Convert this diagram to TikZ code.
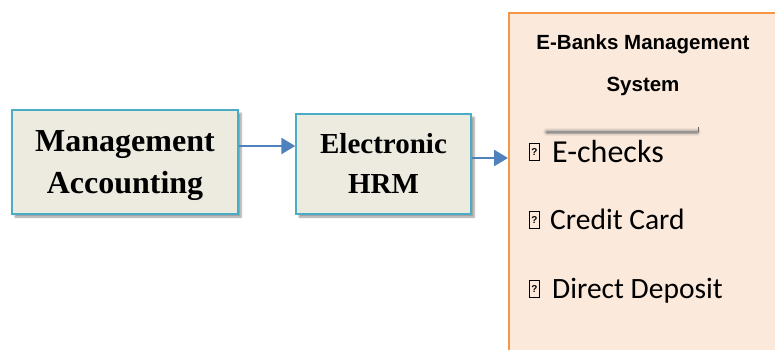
\documentclass[tikz,border=0pt]{standalone}
\usepackage{fontspec}
\setmainfont{Liberation Serif}
\newfontfamily\arialf{Liberation Sans}
\newfontfamily\calibf{Carlito}
\usetikzlibrary{shadows.blur,arrows.meta}
\definecolor{boxfill}{HTML}{EDEBE0}
\definecolor{boxline}{HTML}{4BACC6}
\definecolor{orfill}{HTML}{FBE9DB}
\definecolor{orline}{HTML}{F79646}
\definecolor{arrblue}{HTML}{4F81BD}
\tikzset{
  tanbox/.style={draw=boxline, line width=1.4pt, fill=boxfill, inner sep=0pt,
    blur shadow={shadow xshift=3pt, shadow yshift=-3pt, shadow blur steps=6, shadow opacity=40}},
  boxlabel/.style={align=center, inner sep=0pt, anchor=base},
  flowarrow/.style={draw=arrblue, line width=2.6pt, -{Triangle[length=14pt,width=16pt]}},
  itemtext/.style={font=\calibf\fontsize{29.5pt}{34pt}\selectfont, anchor=base west, inner sep=0pt, text=black},
  headtext/.style={font=\arialf\bfseries\fontsize{20.5pt}{24pt}\selectfont, anchor=base, inner sep=0pt},
  qbox/.style={draw=black, line width=1pt, minimum width=10pt, minimum height=17pt, inner sep=0pt,
    anchor=south west, font=\arialf\bfseries\fontsize{10pt}{10pt}\selectfont}
}
\begin{document}
\begin{tikzpicture}[x=1pt,y=-1pt]
\useasboundingbox (0,0) rectangle (775,350);
\begin{scope}
\clip (0,0) rectangle (775,350);
\node[draw=orline, line width=2pt, fill=orfill, minimum width=290pt, minimum height=360pt, anchor=north west, inner sep=0pt] (ebank) at (508,12) {};
\end{scope}
\node[tanbox, minimum width=226pt, minimum height=104pt] (ma) at (125,162) {};
\node[boxlabel, font=\bfseries\fontsize{32pt}{42pt}\selectfont] (malab) at (125,193) {Management\\Accounting};
\node[tanbox, minimum width=175pt, minimum height=100pt] (hrm) at (383.5,164) {};
\node[boxlabel, font=\bfseries\fontsize{29pt}{40pt}\selectfont] (hrmlab) at (383.5,193) {Electronic\\HRM};
\draw[flowarrow] (ma.east |- 0,146) -- (hrm.west |- 0,146);
\draw[flowarrow] (hrm.east |- 0,158) -- (ebank.west |- 0,158);
\node[headtext] (h1) at (643,50) {E-Banks Management};
\node[headtext] (h2) at (643,92) {System};
% blurred grey line
\foreach \w/\o in {8/0.10,6/0.15,4.5/0.22,3/0.35,1.8/0.5}{
  \draw[line width=\w pt, black!50, opacity=\o, line cap=round] (ebank.west |- 0,132) ++(39,0) -- ++(150,0);
}
\draw[line width=0.7pt, black!60] (ebank.west |- 0,127) ++(190,0) -- ++(0,5);
\node[qbox] (q1) at (529,161) {?};
\node[itemtext, font=\calibf\fontsize{32pt}{36pt}\selectfont] (t1) at (552,162) {E-checks};
\node[qbox] (q2) at (529,229) {?};
\node[itemtext] (t2) at (550,229) {Credit Card};
\node[qbox] (q3) at (529,298) {?};
\node[itemtext] (t3) at (552,298) {Direct Deposit};
\end{tikzpicture}
\end{document}
